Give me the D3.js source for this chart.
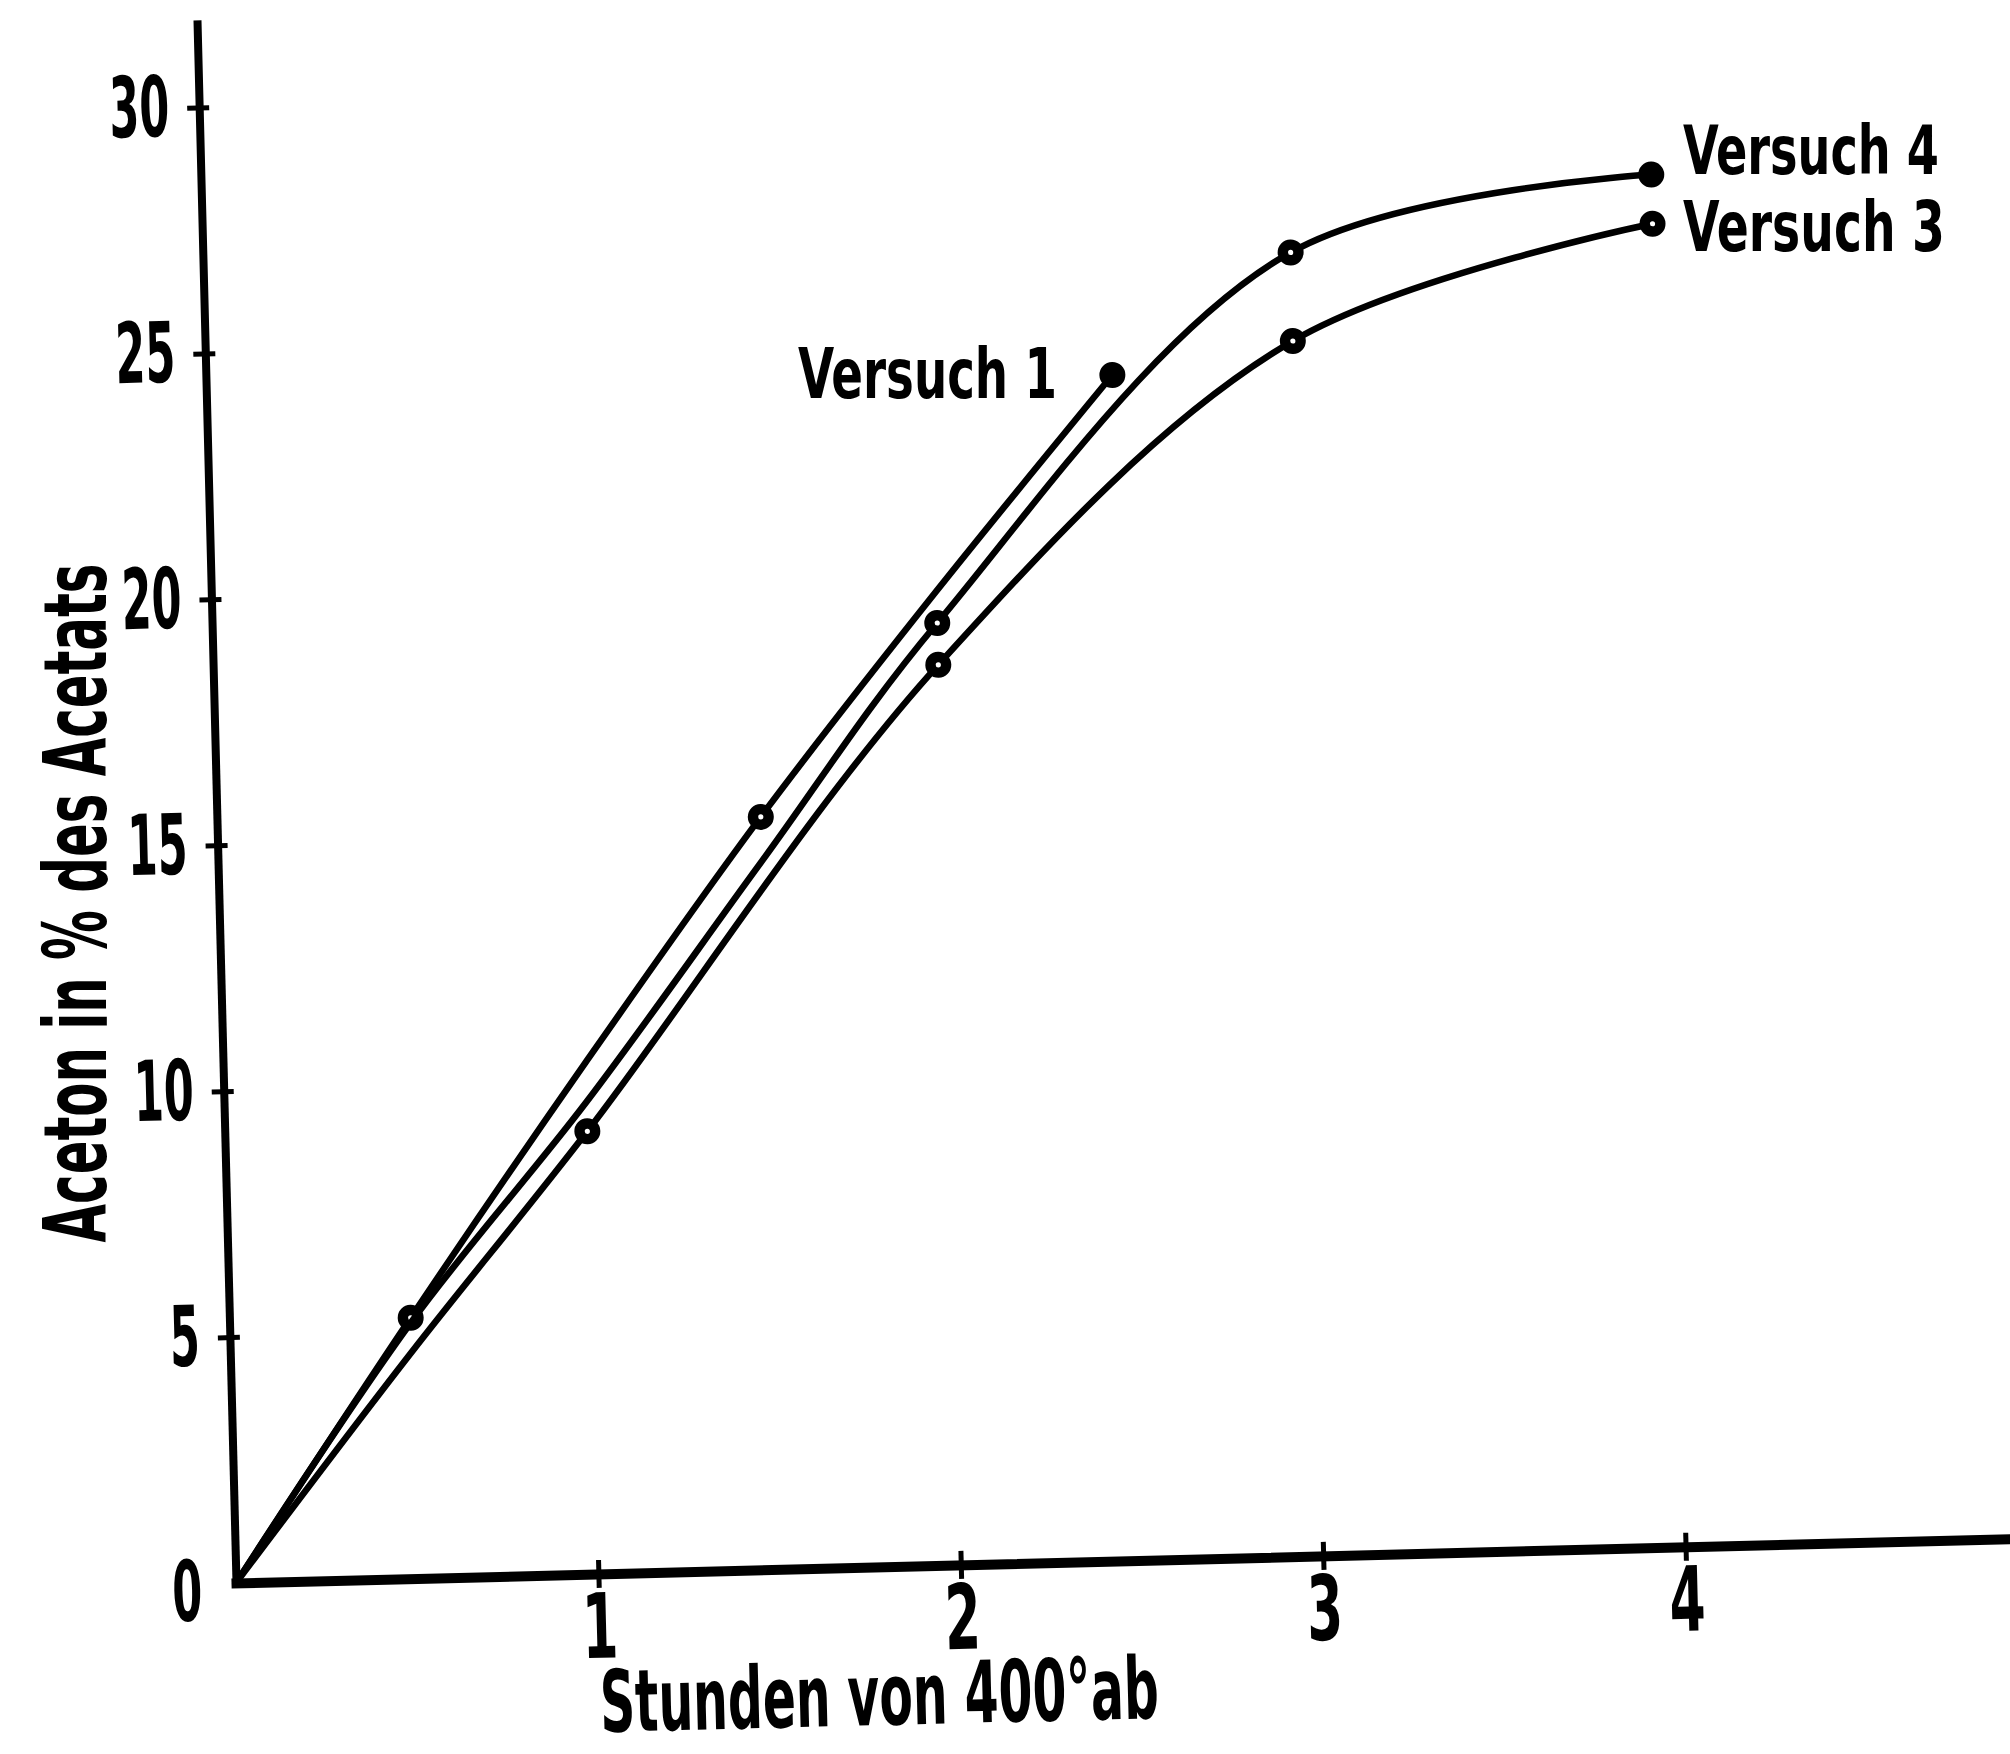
<!DOCTYPE html>
<html><head><meta charset="utf-8">
<script src="https://cdn.jsdelivr.net/npm/d3@7"></script>
<style>
html,body{margin:0;padding:0;background:#fff;}
svg{display:block;}
text{font-family:"DejaVu Sans Condensed","Liberation Sans Narrow","DejaVu Sans",sans-serif;font-weight:bold;fill:#000;}
</style></head><body>
<script>
// ---- data ----
const yTicks = [0, 5, 10, 15, 20, 25, 30];
const xTicks = [1, 2, 3, 4];
const xMax = 4.9;     // visible end of the hour axis
const yMax = 31.7;    // visible end of the percent axis

const hours1 = [0, 0.5, 1, 1.5, 2, 2.5];
const versuch1 = [0, 5.3, 10.4, 15.3, 19.8, 24.1];
const marks1 = ["", "o", "", "o", "", "f"];

const hours4 = [0, 0.5, 1, 1.5, 2, 3, 4];
const versuch4 = [0, 5.2, 9.6, 14.4, 19.15, 26.5, 27.9];
const marks4 = ["", "", "", "", "o", "o", "f"];

const hours3 = [0, 0.5, 1, 2, 3, 4];
const versuch3 = [0, 4.6, 9.0, 18.3, 24.7, 26.9];
const marks3 = ["", "", "o", "o", "o", "o"];

const seriesNames = ["Versuch 1", "Versuch 4", "Versuch 3"];
const xTitle = "Stunden von 400°ab";
const yTitle = "Aceton in % des Acetats";

// ---- layout ----
const W = 2010, H = 1754;
const origin = [236, 1583];
const tilt = -1.43;            // the scanned figure is slightly rotated
const pxPerHour = 362.5, pxPerPct = 49.2;

const svg = d3.select("body").append("svg").attr("width", W).attr("height", H);
svg.append("rect").attr("width", W).attr("height", H).attr("fill", "#fff");

const g = svg.append("g").attr("transform", `translate(${origin[0]},${origin[1]}) rotate(${tilt})`);

const x = d3.scaleLinear().domain([0, xMax]).range([0, xMax * pxPerHour]);
const y = d3.scaleLinear().domain([0, yMax]).range([0, -yMax * pxPerPct]);

// squeeze a text horizontally to a given width (hand-lettered narrow digits)
function squeeze(node, width, pre) {
  const t = d3.select(node);
  const nat = node.getComputedTextLength();
  const s = nat > 0 ? width / nat : 1;
  const px = +t.attr("x") || 0, py = +t.attr("y") || 0;
  t.attr("x", 0).attr("y", 0)
   .attr("transform", (pre ? pre + " " : `translate(${px},${py}) `) + `scale(${s},1)`);
}

// x axis
const gx = g.append("g").call(d3.axisBottom(x).tickValues(xTicks).tickSize(14).tickSizeOuter(0).tickPadding(0).tickFormat(d3.format("d")));
gx.select(".domain").attr("stroke", "#000").attr("stroke-width", 10).attr("stroke-linecap", "square");
gx.selectAll(".tick line").attr("y1", -14).attr("stroke", "#000").attr("stroke-width", 5);
gx.selectAll(".tick text").attr("y", 84).attr("dy", 0).attr("font-size", 90)
  .attr("fill", "#000").attr("font-family", null)
  .each(function(d) { squeeze(this, 36 * String(d).length); });

// y axis
const gy = g.append("g").call(d3.axisLeft(y).tickValues(yTicks).tickSize(12).tickSizeOuter(0).tickPadding(0).tickFormat(d3.format("d")));
gy.select(".domain").attr("stroke", "#000").attr("stroke-width", 8).attr("stroke-linecap", "square");
gy.selectAll(".tick line").attr("x1", 10).attr("stroke", "#000").attr("stroke-width", 5)
  .attr("display", d => d === 0 ? "none" : null);
gy.selectAll(".tick text").attr("x", d => d === 0 ? -34 : -30).attr("y", d => d === 0 ? 6 : -3)
  .attr("dy", "0.36em").attr("font-size", 84)
  .attr("fill", "#000").attr("font-family", null)
  .each(function(d) { squeeze(this, 30 * String(d).length); });

// series
const series = [
  {name: seriesNames[0], h: hours1, v: versuch1, m: marks1},
  {name: seriesNames[1], h: hours4, v: versuch4, m: marks4},
  {name: seriesNames[2], h: hours3, v: versuch3, m: marks3}
];
const line = d3.line().x(d => x(d[0])).y(d => y(d[1])).curve(d3.curveCatmullRom.alpha(0.5));

series.forEach(s => {
  const pts = s.h.map((hv, i) => [hv, s.v[i], s.m[i]]);
  g.append("path").attr("d", line(pts)).attr("fill", "none").attr("stroke", "#000")
    .attr("stroke-width", 6.5).attr("stroke-linejoin", "round").attr("stroke-linecap", "round");
  const mk = pts.filter(p => p[2] !== "");
  g.selectAll(null).data(mk).enter().append("circle")
    .attr("cx", d => x(d[0])).attr("cy", d => y(d[1])).attr("r", 13).attr("fill", "#000");
  g.selectAll(null).data(mk.filter(p => p[2] === "o")).enter().append("circle")
    .attr("cx", d => x(d[0])).attr("cy", d => y(d[1])).attr("r", 2.6).attr("fill", "#fff");
});

// series labels
const labels = [
  {t: seriesNames[1], x: 1683, y: 174, len: 256, fs: 68},
  {t: seriesNames[2], x: 1683, y: 251, len: 262, fs: 70},
  {t: seriesNames[0], x: 798, y: 398, len: 259, fs: 70}
];
svg.selectAll(null).data(labels).enter().append("text")
  .attr("x", d => d.x).attr("y", d => d.y).attr("font-size", d => d.fs)
  .text(d => d.t)
  .each(function(d) { squeeze(this, d.len); });

// axis titles
svg.append("text").attr("text-anchor", "middle").attr("font-size", 88).text(yTitle)
  .each(function() { squeeze(this, 679, "translate(106,903) rotate(-90)"); });

svg.append("text").attr("text-anchor", "middle").attr("font-size", 86).text(xTitle)
  .each(function() { squeeze(this, 559, `translate(880,1725) rotate(${tilt})`); });
</script>
</body></html>
